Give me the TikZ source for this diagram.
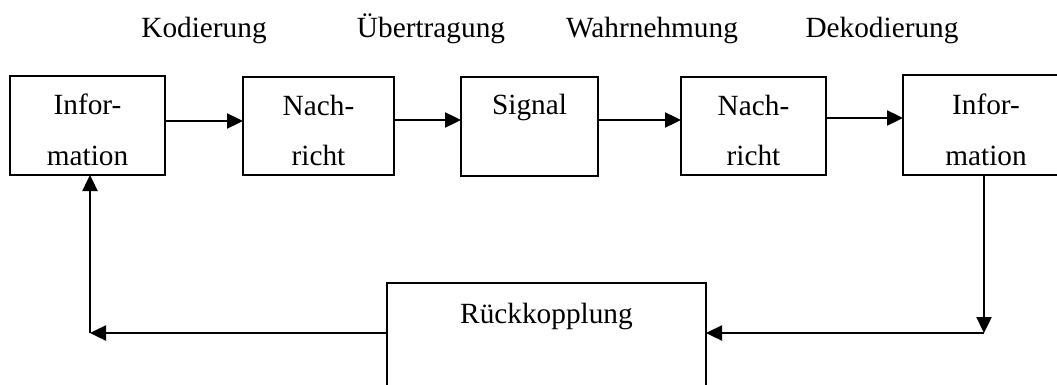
\documentclass[tikz,border=0pt]{standalone}
\usepackage{fontspec}
\setmainfont{Liberation Serif}
\usetikzlibrary{arrows.meta}
\begin{document}
\begin{tikzpicture}[x=1pt,y=-1pt,
  box/.style={draw, line width=2pt, inner sep=0pt, outer sep=0pt, rectangle},
  lbl/.style={anchor=base, inner sep=0pt, font=\fontsize{29.3}{35}\selectfont},
  arr/.style={line width=2.4pt, -{Triangle[length=16pt,width=15pt]}},
  ln/.style={line width=2.4pt}]
\useasboundingbox (0,0) rectangle (1057,385);
\clip (0,0) rectangle (1057,385);
% top labels
\node[lbl] (l1) at (204,38) {Kodierung};
\node[lbl] (l2) at (431,38) {Übertragung};
\node[lbl] (l3) at (652,38) {Wahrnehmung};
\node[lbl] (l4) at (882,38) {Dekodierung};
% boxes
\node[box, minimum width=155pt, minimum height=99pt] (b1) at (87.5,125.5) {};
\node[box, minimum width=151pt, minimum height=98pt] (b2) at (318.5,126) {};
\node[box, minimum width=137pt, minimum height=99pt] (b3) at (529.5,126.5) {};
\node[box, minimum width=145pt, minimum height=98pt] (b4) at (753.5,126) {};
\node[box, minimum width=166pt, minimum height=100pt] (b5) at (986,125) {};
\node[box, minimum width=319pt, minimum height=137pt] (b6) at (546.5,351.5) {};
% box texts
\node[lbl] (t1a) at (87.5,115) {Infor-};
\node[lbl] (t1b) at (87.5,165) {mation};
\node[lbl] (t2a) at (318.5,116) {Nach-};
\node[lbl] (t2b) at (318.5,165) {richt};
\node[lbl] (t3) at (529.5,115) {Signal};
\node[lbl] (t4a) at (753.5,116) {Nach-};
\node[lbl] (t4b) at (753.5,165) {richt};
\node[lbl] (t5a) at (986,115) {Infor-};
\node[lbl] (t5b) at (986,165) {mation};
\node[lbl] (t6) at (546.5,323) {Rückkopplung};
% forward arrows
\draw[arr] (b1.east |- 0,121) -- (b2.west |- 0,121);
\draw[arr] (b2.east |- 0,120) -- (b3.west |- 0,120);
\draw[arr] (b3.east |- 0,120) -- (b4.west |- 0,120);
\draw[arr] (b4.east |- 0,118) -- (b5.west |- 0,118);
% feedback
\coordinate (c1) at (984,333);
\coordinate (c2) at (90,333);
\draw[arr] (b5.south -| c1) -- (c1);
\draw[arr] (c1) -- (b6.east |- c1);
\draw[arr] (b6.west |- c2) -- (c2);
\draw[arr] (c2) -- (b1.south -| c2);
\end{tikzpicture}
\end{document}
